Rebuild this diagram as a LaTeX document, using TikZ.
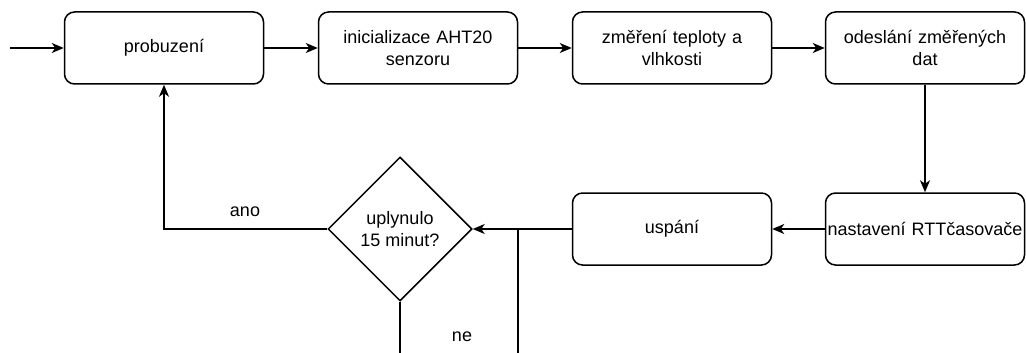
\documentclass[tikz,border=0pt]{standalone}
\usepackage{fontspec}
\setmainfont{Liberation Sans}
\usetikzlibrary{shapes.geometric,arrows.meta}
\begin{document}
\begin{tikzpicture}[x=1pt,y=-1pt,
  font=\fontsize{18}{21.5}\selectfont,
  box/.style={draw,line width=1.5pt,rounded corners=10pt,minimum width=199pt,minimum height=72pt,align=center,inner sep=0pt,text width=197pt},
  dec/.style={draw,diamond,line width=1.5pt,minimum width=144pt,minimum height=144pt,inner sep=0pt,align=center},
  conn/.style={line width=1.5pt},
  arr/.style={conn,-{Stealth[length=12pt,width=10pt,inset=3.5pt]}},
  lbl/.style={inner sep=0pt}]
\useasboundingbox (0,0) rectangle (1026,353);
\node[box] (b1) at (164,48) {probuzení};
\node[box] (b2) at (418,48) {inicializace AHT20\\senzoru};
\node[box] (b3) at (672,48) {změření teploty a\\vlhkosti};
\node[box] (b4) at (925,48) {odeslání změřených\\dat};
\node[box] (b5) at (925,229) {nastavení RTTčasovače};
\node[box] (b6) at (672,229) {uspání};
\node[dec] (d) at (400,229) {uplynulo\\15 minut?};
\coordinate (in) at (10,48);
\coordinate (ybot) at (400,353);
\coordinate (xbot) at (518,353);
\coordinate (xj) at (518,229);
\draw[arr] (in) -- (b1);
\draw[arr] (b1) -- (b2);
\draw[arr] (b2) -- (b3);
\draw[arr] (b3) -- (b4);
\draw[arr] (b4) -- (b5);
\draw[arr] (b5) -- (b6);
\draw[arr] (b6) -- (d.east);
\draw[arr] (d.west) -| (b1.south);
\draw[conn] (d.south) -- (ybot);
\draw[conn] (xbot) -- (xj);
\node[lbl] (ano) at (245,212) {ano};
\node[lbl] (ne) at (462,337) {ne};
\end{tikzpicture}
\end{document}
